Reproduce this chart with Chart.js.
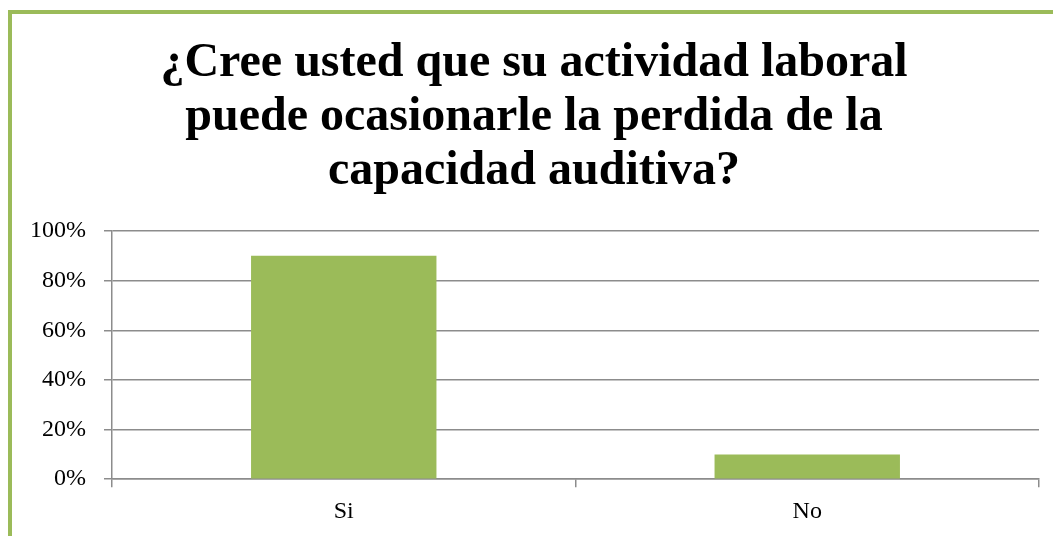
<!DOCTYPE html>
<html>
<head>
<meta charset="utf-8">
<script src="https://cdn.jsdelivr.net/npm/chart.js@4"></script>
<style>
	html, body { margin: 0; padding: 0; background: #fff; overflow: hidden; }
	#frame {
		position: absolute; left: 8px; top: 10px; width: 1200px; height: 700px;
		border-left: 4px solid #9BBB59; border-top: 4px solid #9BBB59;
	}
	#wrap { position: absolute; left: 0; top: 0; width: 1053px; height: 536px; }
</style>
</head>
<body>
<div id="frame"></div>
<div id="wrap"><canvas id="chartAudit" width="1053" height="536"></canvas></div>
<script>
'use strict'

const categories = ['Si', 'No'];
const percentages = [90, 10];
const titleLines = [
	'¿Cree usted que su actividad laboral',
	'puede ocasionarle la perdida de la',
	'capacidad auditiva?',
];

const colors = {
	bar: '#9BBB59',
	grid: '#8c8c8c',
	text: '#000',
};

const serif = "'Liberation Serif', 'Times New Roman', serif";

let chart = new Chart(document.getElementById('chartAudit'), {
	type: 'bar',
	data: {
		labels: categories,
		datasets: [
			{
				label: 'Porcentaje',
				data: percentages,
				backgroundColor: colors.bar,
				borderWidth: 0,
				categoryPercentage: 0.8,
				barPercentage: 0.5,
			},
		],
	},
	options: {
		responsive: false,
		animation: false,
		layout: {
			padding: { left: 29, right: 14, top: 0, bottom: 0 },
		},
		plugins: {
			legend: { display: false },
			tooltip: { enabled: false },
			title: {
				display: true,
				text: titleLines,
				color: colors.text,
				font: { family: serif, size: 48, weight: 'bold', lineHeight: 1.125 },
				padding: { top: 37, bottom: 32 },
			},
		},
		scales: {
			y: {
				min: 0,
				max: 100,
				// labels are clipped to the axis box, so keep its left edge at the padding
				afterFit: (scale) => { scale.width = 83; },
				ticks: {
					stepSize: 20,
					color: colors.text,
					padding: 18,
					font: { family: serif, size: 24 },
					callback: (v) => v + '%',
				},
				grid: {
					color: colors.grid,
					lineWidth: 1.5,
					tickLength: 8,
				},
				border: { color: colors.grid, width: 1.5 },
			},
			x: {
				ticks: {
					color: colors.text,
					padding: 10,
					font: { family: serif, size: 24 },
				},
				grid: {
					drawOnChartArea: false,
					color: colors.grid,
					lineWidth: 1.5,
					tickLength: 8,
				},
				border: { color: colors.grid, width: 1.5 },
			},
		},
	},
});
</script>
</body>
</html>
